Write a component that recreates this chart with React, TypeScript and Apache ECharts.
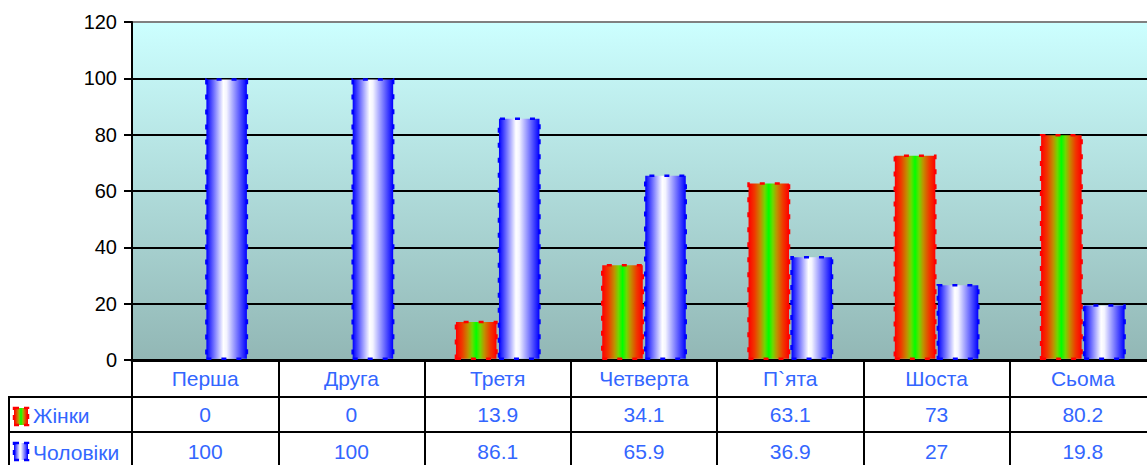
import React, { useEffect, useRef } from "react";
import * as echarts from "echarts";

const categories = ["Перша", "Друга", "Третя", "Четверта", "П`ята", "Шоста", "Сьома"];
const women = [0, 0, 13.9, 34.1, 63.1, 73, 80.2];
const men = [100, 100, 86.1, 65.9, 36.9, 27, 19.8];
const seriesNames = ["Жінки", "Чоловіки"];
const yTicks = { min: 0, max: 120, interval: 20 };

const FONT = "'Liberation Sans', Arial, sans-serif";
const TXT_BLUE = "#3366FF";

const redGreen = () =>
  new echarts.graphic.LinearGradient(0, 0, 1, 0, [
    { offset: 0, color: "#FF0000" },
    { offset: 0.15, color: "#F03800" },
    { offset: 0.3, color: "#C09000" },
    { offset: 0.4, color: "#70D800" },
    { offset: 0.5, color: "#00FF00" },
    { offset: 0.6, color: "#70D800" },
    { offset: 0.7, color: "#C09000" },
    { offset: 0.85, color: "#F03800" },
    { offset: 1, color: "#FF0000" },
  ]);
const blueWhite = () =>
  new echarts.graphic.LinearGradient(0, 0, 1, 0, [
    { offset: 0, color: "#0000FF" },
    { offset: 0.42, color: "#FFFFFF" },
    { offset: 0.5, color: "#F4F4FF" },
    { offset: 1, color: "#0000FF" },
  ]);

const toBarData = (arr: number[]) =>
  arr.map((v) => (v === 0 ? { value: v, itemStyle: { borderWidth: 0 } } : v));

export default function App() {
  const ref = useRef<HTMLDivElement>(null);
  useEffect(() => {
    if (!ref.current) return;
    const chart = echarts.init(ref.current, undefined, { renderer: "svg" });
    const W = 1157;
    const catAxisBase = {
      type: "category",
      data: categories,
      gridIndex: 0,
      position: "bottom",
      boundaryGap: true,
      axisLine: { show: false },
      axisTick: { show: false },
      splitLine: { show: false },
    };
    const labelStyle = {
      fontFamily: FONT,
      fontSize: 21,
      color: TXT_BLUE,
      interval: 0,
      verticalAlign: "middle",
    };
    chart.setOption({
      animation: false,
      textStyle: { fontFamily: FONT },
      grid: {
        left: 132,
        top: 22,
        bottom: 105,
        right: 1,
        show: true,
        borderWidth: 0,
        backgroundColor: new echarts.graphic.LinearGradient(0, 0, 0, 1, [
          { offset: 0, color: "#CCFFFF" },
          { offset: 1, color: "#92B7B5" },
        ]),
      },
      xAxis: [
        {
          ...catAxisBase,
          axisLine: { show: true, lineStyle: { color: "#000", width: 3 } },
          axisTick: {
            show: true,
            length: 105,
            alignWithLabel: false,
            lineStyle: { color: "#000", width: 2 },
          },
          axisLabel: { ...labelStyle, margin: 18 },
        },
        {
          ...catAxisBase,
          axisLabel: {
            ...labelStyle,
            margin: 54,
            formatter: (_v: string, i: number) => String(women[i]),
          },
        },
        {
          ...catAxisBase,
          axisLabel: {
            ...labelStyle,
            margin: 91,
            formatter: (_v: string, i: number) => String(men[i]),
          },
        },
      ],
      yAxis: {
        type: "value",
        min: yTicks.min,
        max: yTicks.max,
        interval: yTicks.interval,
        axisLine: { show: true, lineStyle: { color: "#000", width: 2 } },
        axisTick: { show: true, length: 8, lineStyle: { color: "#000", width: 2 } },
        axisLabel: { fontFamily: FONT, fontSize: 20, color: "#000", margin: 15 },
        splitLine: {
          show: true,
          lineStyle: {
            width: 2,
            color: ["#000", "#000", "#000", "#000", "#000", "#000", "#808080"],
          },
        },
      },
      series: [
        {
          name: seriesNames[0],
          type: "bar",
          data: toBarData(women),
          barWidth: 43,
          barGap: "0%",
          itemStyle: {
            color: redGreen(),
            borderColor: "#FF0000",
            borderWidth: 2.5,
            borderType: [5, 10],
          },
        },
        {
          name: seriesNames[1],
          type: "bar",
          data: toBarData(men),
          barWidth: 43,
          barGap: "0%",
          itemStyle: {
            color: blueWhite(),
            borderColor: "#0000FF",
            borderWidth: 2.5,
            borderType: [5, 10],
          },
        },
      ],
      graphic: [
        { type: "line", shape: { x1: 8, y1: 397, x2: W, y2: 397 }, style: { stroke: "#000", lineWidth: 2 } },
        { type: "line", shape: { x1: 8, y1: 432, x2: W, y2: 432 }, style: { stroke: "#000", lineWidth: 2 } },
        { type: "line", shape: { x1: 9, y1: 396, x2: 9, y2: 465 }, style: { stroke: "#000", lineWidth: 2 } },
        {
          type: "rect",
          shape: { x: 14, y: 408, width: 14, height: 17 },
          style: { fill: redGreen(), stroke: "#FF0000", lineWidth: 2.5, lineDash: [5, 5] },
        },
        {
          type: "text",
          x: 33,
          y: 415,
          style: { text: seriesNames[0], font: `21px ${FONT}`, fill: TXT_BLUE, verticalAlign: "middle" },
        },
        {
          type: "rect",
          shape: { x: 14, y: 443, width: 14, height: 17 },
          style: { fill: blueWhite(), stroke: "#0000FF", lineWidth: 2.5, lineDash: [5, 5] },
        },
        {
          type: "text",
          x: 33,
          y: 452,
          style: { text: seriesNames[1], font: `21px ${FONT}`, fill: TXT_BLUE, verticalAlign: "middle" },
        },
      ],
    });
    return () => chart.dispose();
  }, []);
  return (
    <div
      style={{ position: "fixed", left: 0, top: 0, width: 1147, height: 465, overflow: "hidden", background: "#fff" }}
    >
      <div ref={ref} style={{ width: 1157, height: 465 }} />
    </div>
  );
}
